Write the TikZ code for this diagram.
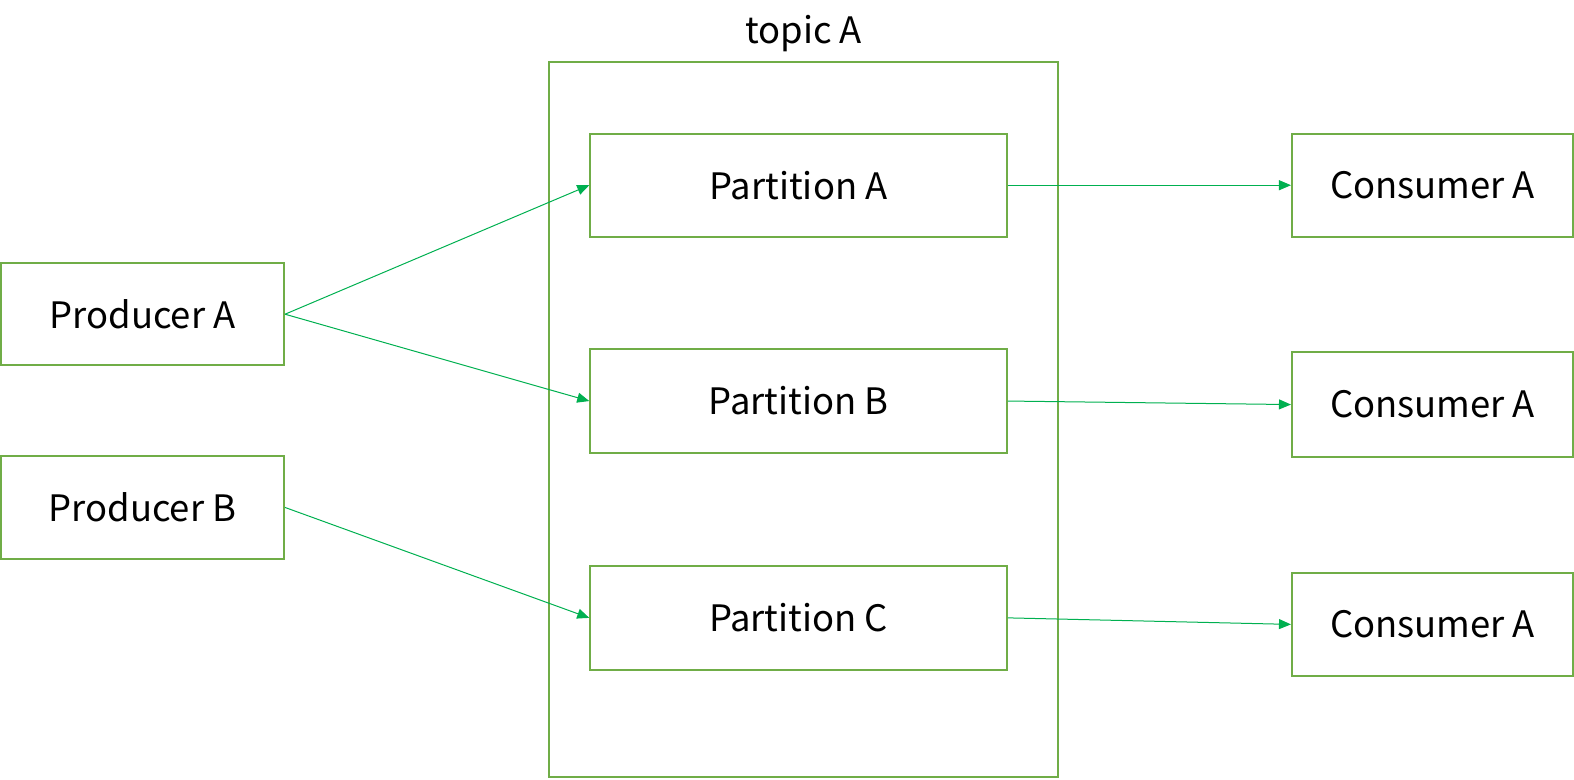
\documentclass[tikz,border=0pt]{standalone}
\usepackage{fontspec}
\setmainfont{Noto Sans CJK SC}
\usetikzlibrary{arrows.meta}
\definecolor{boxgreen}{HTML}{70AD47}
\definecolor{arrgreen}{HTML}{00B050}
\begin{document}
\begin{tikzpicture}[x=0.50191pt,y=-0.50191pt,
  box/.style={draw=boxgreen,line width=1pt,inner sep=0pt,font=\fontsize{18.2}{20}\selectfont},
  conn/.style={draw=arrgreen,line width=0.5pt,-{Triangle[length=6pt,width=5pt]}}]
\useasboundingbox (0,0) rectangle (1568,777);
\node[draw=boxgreen,line width=1pt,minimum width=254.5pt,minimum height=357.4pt,inner sep=0pt] (topic) at (800.5,418) {};
\node[font=\fontsize{18.2}{20}\selectfont] (tlabel) at (800.5,33) {topic A};
\node[box,minimum width=208.3pt,minimum height=51.7pt] (pa) at (795.5,184.5) {Partition A};
\node[box,minimum width=208.3pt,minimum height=51.7pt] (pb) at (795.5,399.5) {Partition B};
\node[box,minimum width=208.3pt,minimum height=51.7pt] (pc) at (795.5,615.5) {Partition C};
\node[box,minimum width=141.5pt,minimum height=51.2pt] (prA) at (142,313) {Producer A};
\node[box,minimum width=141.5pt,minimum height=51.7pt] (prB) at (142,505.5) {Producer B};
\node[box,minimum width=140.5pt,minimum height=51.7pt] (c1) at (1427,184.5) {Consumer A};
\node[box,minimum width=140.5pt,minimum height=52.2pt] (c2) at (1427,403) {Consumer A};
\node[box,minimum width=140.5pt,minimum height=51.2pt] (c3) at (1427,622) {Consumer A};
\draw[conn] (prA.east) -- (pa.west);
\draw[conn] (prA.east) -- (pb.west);
\draw[conn] (prB.east) -- (pc.west);
\draw[conn] (pa.east) -- (c1.west);
\draw[conn] (pb.east) -- (c2.west);
\draw[conn] (pc.east) -- (c3.west);
\end{tikzpicture}
\end{document}
